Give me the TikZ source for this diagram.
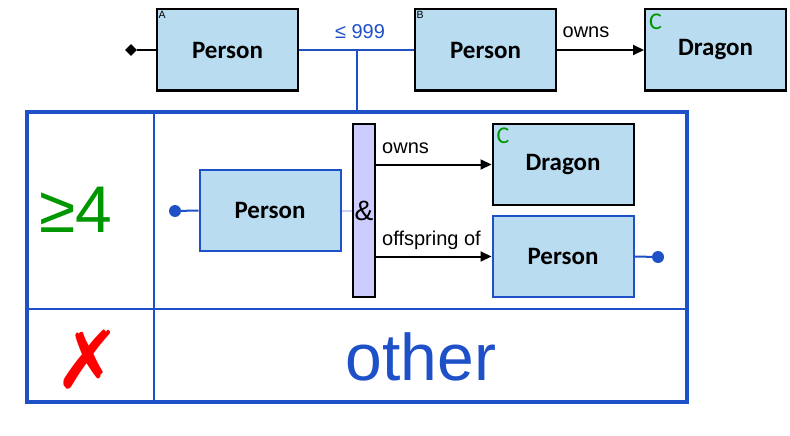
\documentclass[tikz,border=0pt]{standalone}
\usepackage{fontspec}
\setmainfont{Liberation Sans}
\newfontfamily\boxfont{Carlito}
\newfontfamily\symbfont{DejaVu Sans}
\usepackage{xcolor}
\definecolor{lineblue}{RGB}{30,80,200}
\definecolor{cellfill}{RGB}{185,220,240}
\definecolor{joinfill}{RGB}{204,204,255}
\definecolor{taggreen}{RGB}{0,150,0}
\definecolor{crossred}{RGB}{255,0,0}
\definecolor{faintline}{RGB}{205,205,245}
\usetikzlibrary{positioning, arrows.meta, shapes.geometric}
\tikzset{
  entity/.style  = {rectangle, draw=black, line width=2pt, fill=cellfill, minimum width=141pt, minimum height=81pt, inner sep=0pt, font=\boxfont\bfseries\fontsize{25}{28}\selectfont},
  tag/.style     = {anchor=north west, inner sep=2.5pt, font=\fontsize{10.5}{12}\selectfont},
  ctag/.style    = {anchor=north west, inner sep=5pt, text=taggreen, font=\boxfont\fontsize{24}{26}\selectfont},
  link/.style    = {line width=2pt, draw=lineblue},
  rel/.style     = {-{Triangle[length=11pt, width=10pt]}, line width=2pt, draw=black},
  lbl/.style     = {inner sep=0pt, font=\fontsize{20}{24}\selectfont},
  dot/.style     = {circle, fill=lineblue, inner sep=0pt, minimum size=12pt},
  joinbar/.style = {rectangle, draw=black, line width=2pt, fill=joinfill, minimum width=22pt, minimum height=173pt, inner sep=0pt, font=\fontsize{28}{30}\selectfont},
  big/.style     = {inner sep=0pt, font=\fontsize{66}{70}\selectfont},
}

\begin{document}
\begin{tikzpicture}[x=1pt, y=-1pt]
    \useasboundingbox (0,0) rectangle (790,436);

    % top row
    \node[entity] (pa) at (227.5,50) {Person};
    \node[entity] (pb) at (485.5,50) {Person};
    \node[entity] (dc) at (715.5,50) {Dragon};
    \node[tag] (taga) at (pa.north west) {A};
    \node[tag] (tagb) at (pb.north west) {B};
    \node[ctag] (tagc) at (dc.north west) {C};

    \node[diamond, fill=black, inner sep=0pt, minimum size=12pt] (pin) at (131,50) {};
    \draw[line width=2pt] (pin) -- (pa.west);
    \draw[link] (pa.east) -- (pb.west) coordinate[pos=0.5] (jn);
    \node[lbl, text=lineblue] (cnt) at (360,32) {≤ 999};
    \draw[rel] (pb.east) -- (dc.west);
    \node[lbl] (ownsb) at (586,32) {owns};

    % condition table
    \node[rectangle, draw=lineblue, line width=4pt, minimum width=660pt, minimum height=290pt, inner sep=0pt] (frame) at (357,257) {};
    \draw[link] (jn) -- (jn |- frame.north);
    \draw[link] (154,110) -- (154,404);
    \draw[link] (25,309) -- (689,309);

    \node[big, text=taggreen] (geq) at (76,210) {≥4};
    \node[big, text=crossred, font=\symbfont\fontsize{80}{84}\selectfont] (cross) at (88,360) {✗};
    \node[big, text=lineblue] (other) at (421,357) {other};

    % inner pattern
    \node[entity, draw=lineblue] (pi) at (270,210.5) {Person};
    \node[joinbar] (amp) at (364,210.5) {\&};
    \node[entity] (di) at (563,164.5) {Dragon};
    \node[entity, draw=lineblue] (po) at (563,256.5) {Person};
    \node[ctag] (tagci) at (di.north west) {C};

    \node[dot] (din) at (175,211) {};
    \node[dot] (dout) at (658,257) {};
    \draw[link] (din) -- (pi.west);
    \draw[line width=2pt, draw=faintline] (pi.east) -- (amp.west |- pi.east);
    \draw[link] (po.east) -- (dout);

    \draw[rel] (amp.east |- di.west) -- (di.west);
    \draw[rel] (amp.east |- po.west) -- (po.west);
    \node[lbl, anchor=west] (ownsi) at (382,148) {owns};
    \node[lbl, anchor=west] (offs) at (382,240) {offspring of};
  \end{tikzpicture}
\end{document}
